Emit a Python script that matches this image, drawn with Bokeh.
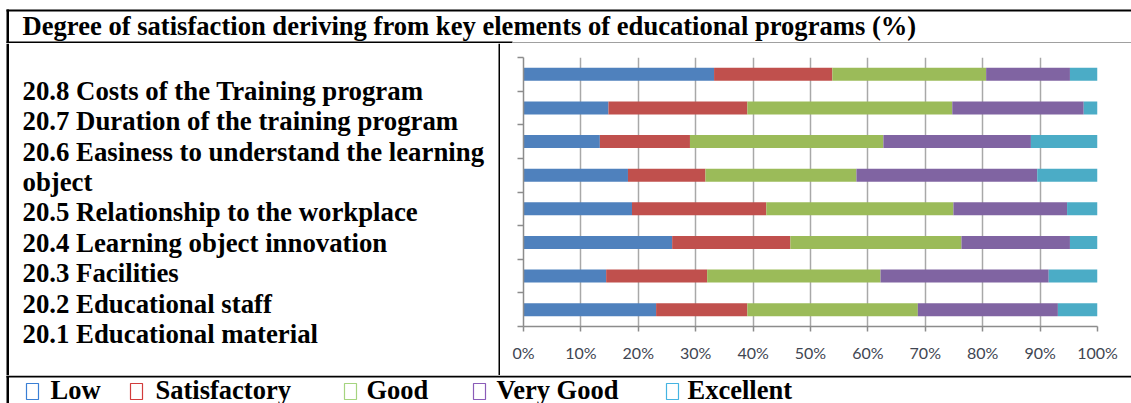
import textwrap
from bokeh.plotting import figure
from bokeh.layouts import column, row
from bokeh.models import ColumnDataSource, Range1d, FixedTicker
from bokeh.core.properties import value
from bokeh.embed import file_html
from bokeh.resources import INLINE

# ---------------- data ----------------
title_text = "Degree of satisfaction deriving from key elements of educational programs (%)"
categories = [
    "20.8 Costs of the Training program",
    "20.7 Duration of the training program",
    "20.6 Easiness to understand the learning object",
    "20.5 Relationship to the workplace",
    "20.4 Learning object innovation",
    "20.3 Facilities",
    "20.2 Educational staff",
    "20.1 Educational material",
]
series_names = ["Low", "Satisfactory", "Good", "Very Good", "Excellent"]
low = [33.2, 14.8, 13.3, 18.2, 18.9, 25.9, 14.4, 23.1]
satisfactory = [20.6, 24.2, 15.7, 13.5, 23.4, 20.6, 17.6, 15.9]
good = [26.8, 35.7, 33.7, 26.3, 32.6, 29.8, 30.2, 29.7]
very_good = [14.6, 22.9, 25.7, 31.5, 19.8, 18.9, 29.3, 24.4]
excellent = [4.8, 2.4, 11.6, 10.5, 5.3, 4.8, 8.5, 6.9]
x_tick_values = [0, 10, 20, 30, 40, 50, 60, 70, 80, 90, 100]
x_tick_labels = ["0%", "10%", "20%", "30%", "40%", "50%", "60%", "70%", "80%", "90%", "100%"]

# ---------------- styles / layout (page pixels) ----------------
bar_colors = ["#4F81BD", "#C0504D", "#9BBB59", "#8064A2", "#4BACC6"]
legend_colors = ["#3a7fd5", "#d23c3c", "#a5d47f", "#8a5cb8", "#45b4e2"]
SERIF = value("Liberation Serif")
W = 1131
TITLE_H = 43          # page y 0..43
ROW_H = 332           # page y 43..375
LEG_H = 28            # page y 375..403
LEFT_W = 500
CHART_W = W - LEFT_W
FRAME_L, FRAME_R, FRAME_T, FRAME_B = 523, 1097, 57, 326
TXT_SHIFT = 9         # svg text baseline correction (px)
n = len(categories)


def canvas_fig(w, h):
    f = figure(width=w, height=h, output_backend="svg", toolbar_location=None,
               x_range=Range1d(0, w), y_range=Range1d(h, 0),
               x_axis_type=None, y_axis_type=None, min_border=0, frame_align=False)
    f.outline_line_color = None
    f.grid.visible = False
    f.background_fill_color = "white"
    f.border_fill_color = "white"
    return f


def rules(f, boxes, color="black"):
    f.quad(left=[b[0] for b in boxes], right=[b[1] for b in boxes],
           top=[b[2] for b in boxes], bottom=[b[3] for b in boxes],
           fill_color=color, line_color=None)


def texts(f, xs, ys, labels, size):
    f.text(x=xs, y=[y - TXT_SHIFT for y in ys], text=labels, text_font=SERIF,
           text_font_style="bold", text_font_size=size, text_baseline="alphabetic",
           text_align="left", text_color="black")


# ----- title row -----
t = canvas_fig(W, TITLE_H)
rules(t, [(6, W, 9, 11), (6, 512, 41, 43), (6, 8.5, 9, TITLE_H)])
rules(t, [(512, W, 41.5, 42.5)], "#a0a0a0")
texts(t, [22], [34], [title_text], "26.6px")

# ----- left cell with category labels -----
lf = canvas_fig(LEFT_W, ROW_H)
rules(lf, [(6, 8.5, 0, ROW_H), (498, 500, 0, ROW_H)])
lines = []
for c in categories:
    lines.extend(textwrap.wrap(c, 40))
base0 = 99.3 - TITLE_H
texts(lf, [22] * len(lines), [base0 + 30.4 * k for k in range(len(lines))], lines, "26.8px")

# ----- chart -----
p = figure(width=CHART_W, height=ROW_H, output_backend="svg", toolbar_location=None,
           x_range=Range1d(0, 100), y_range=Range1d(n, 0), frame_align=False,
           min_border_left=FRAME_L - LEFT_W, min_border_right=W - FRAME_R,
           min_border_top=FRAME_T - TITLE_H, min_border_bottom=TITLE_H + ROW_H - FRAME_B)
p.outline_line_color = None
p.background_fill_color = "white"
p.border_fill_color = "white"

data = dict(y=[i + 0.5 for i in range(n)])
for name, vals in zip(series_names, [low, satisfactory, good, very_good, excellent]):
    data[name] = vals
src = ColumnDataSource(data)
p.hbar_stack(series_names, y="y", height=0.39, color=bar_colors, line_color=None, source=src)

p.xaxis.ticker = FixedTicker(ticks=x_tick_values)
p.xaxis.major_label_overrides = {v: l for v, l in zip(x_tick_values, x_tick_labels)}
p.xaxis.axis_line_color = "#8c8c8c"
p.xaxis.axis_line_width = 1.5
p.xaxis.major_tick_line_color = "#8c8c8c"
p.xaxis.major_tick_line_width = 1.5
p.xaxis.major_tick_out = 5
p.xaxis.major_tick_in = 0
p.xaxis.minor_tick_line_color = None
p.xaxis.major_label_text_font = "Lato"
p.xaxis.major_label_text_font_size = "16px"
p.xaxis.major_label_text_color = "#3f4652"
p.xaxis.major_label_standoff = 11

p.yaxis.ticker = FixedTicker(ticks=list(range(n + 1)))
p.yaxis.major_label_overrides = {i: "" for i in range(n + 1)}
p.yaxis.axis_line_color = "#8c8c8c"
p.yaxis.axis_line_width = 1.5
p.yaxis.major_tick_line_color = "#8c8c8c"
p.yaxis.major_tick_line_width = 1.5
p.yaxis.major_tick_out = 6
p.yaxis.major_tick_in = 0
p.yaxis.minor_tick_line_color = None

p.xgrid.ticker = FixedTicker(ticks=x_tick_values)
p.xgrid.grid_line_color = "#a8a8a8"
p.xgrid.grid_line_width = 1.5
p.ygrid.grid_line_color = None

# ----- legend row -----
lg = canvas_fig(W, LEG_H)
rules(lg, [(6, W, 0, 2), (6, 8.5, 0, LEG_H)])
box_left = [26, 130, 344, 473, 666]
text_left = [50, 155, 366, 496, 687]
lg.quad(left=box_left, right=[b + 12 for b in box_left], top=[8] * len(box_left),
        bottom=[24] * len(box_left), fill_color="white", line_color=legend_colors,
        line_width=1.2)
texts(lg, text_left, [23.5] * len(series_names), series_names, "26.5px")

layout = column(t, row(lf, p, spacing=0), lg, spacing=0)

open("out.html", "w").write(file_html(layout, INLINE))
